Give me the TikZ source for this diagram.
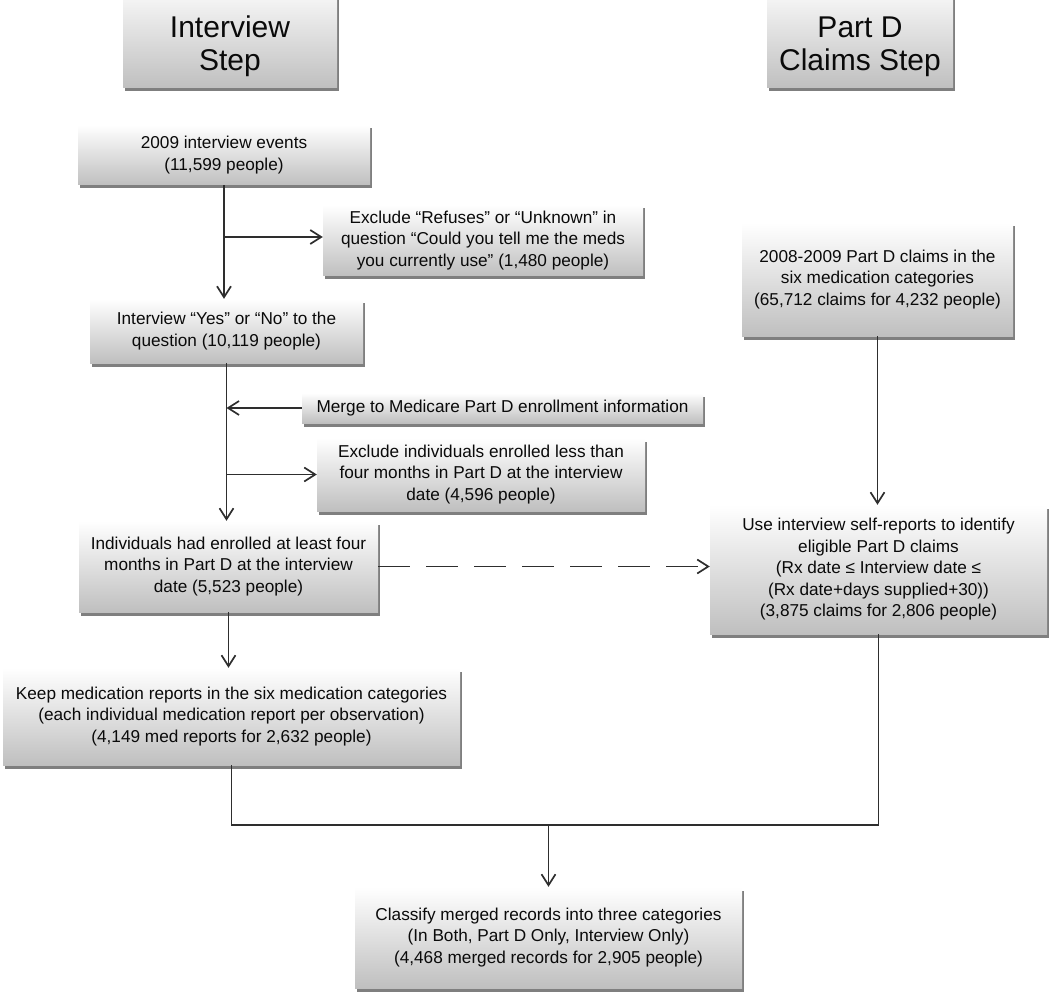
\documentclass[tikz,border=0pt]{standalone}
\usepackage{fontspec}
\setmainfont{Liberation Sans}
\usetikzlibrary{arrows.meta,shadows}
\definecolor{linec}{HTML}{2E2E2E}
\definecolor{txt}{HTML}{0A0A0A}
\tikzset{
  box/.style={rectangle, inner sep=0pt, align=center, text=txt,
    top color=white, bottom color=black!25,
    drop shadow={shadow xshift=1.5pt, shadow yshift=-3.5pt, fill=black, opacity=0.5},
    font=\fontsize{17.2}{21.5}\selectfont},
  headbox/.style={box},
  headtext/.style={align=center, text=txt, inner sep=0pt, font=\fontsize{30}{33}\selectfont},
  conn/.style={draw=linec, line width=1.9pt},
  arr/.style={conn, -{Straight Barb[length=11pt,width=14pt,line width=1.7pt]}},
  dasharr/.style={arr, dash pattern=on 32pt off 16pt}
}
\begin{document}
\begin{tikzpicture}[x=1pt,y=-1pt]
\useasboundingbox (0,0) rectangle (1050,995);
% headers
\node[headbox, minimum width=214pt, minimum height=108pt] (hI) at (230,34) {};
\node[headtext] (hIt) at (230,46) {Interview\\Step};
\node[headbox, minimum width=186pt, minimum height=108pt] (hP) at (860,34) {};
\node[headtext] (hPt) at (860,47) {Part D\\Claims Step};
% left column
\node[box, minimum width=292pt, minimum height=60pt] (b1) at (224,155) {2009 interview events\\(11,599 people)};
\node[box, minimum width=320pt, minimum height=71pt] (ex1) at (483,240.5) {Exclude “Refuses” or “Unknown” in\\question “Could you tell me the meds\\you currently use” (1,480 people)};
\node[box, minimum width=273pt, minimum height=64pt] (b2) at (226.5,331) {Interview “Yes” or “No” to the\\question (10,119 people)};
\node[box, minimum width=401pt, minimum height=30pt] (mg) at (502.5,408) {Merge to Medicare Part D enrollment information};
\node[box, minimum width=328pt, minimum height=73pt] (ex2) at (481,474.5) {Exclude individuals enrolled less than\\four months in Part D at the interview\\date (4,596 people)};
\node[box, minimum width=299pt, minimum height=91pt] (b3) at (228.5,566.5) {Individuals had enrolled at least four\\months in Part D at the interview\\date (5,523 people)};
\node[box, minimum width=457pt, minimum height=97pt] (b4) at (231.5,716.5) {Keep medication reports in the six medication categories\\(each individual medication report per observation)\\(4,149 med reports for 2,632 people)};
% right column
\node[box, minimum width=271pt, minimum height=113pt] (r1) at (877.5,279.5) {2008-2009 Part D claims in the\\six medication categories\\(65,712 claims for 4,232 people)};
\node[box, minimum width=337pt, minimum height=129pt] (r2) at (878.5,569.5) {Use interview self-reports to identify\\eligible Part D claims\\(Rx date ≤ Interview date ≤\\(Rx date+days supplied+30))\\(3,875 claims for 2,806 people)};
% bottom
\node[box, minimum width=387pt, minimum height=101pt] (b5) at (548.5,937.5) {Classify merged records into three categories\\(In Both, Part D Only, Interview Only)\\(4,468 merged records for 2,905 people)};
% connectors
\draw[arr] (b1.south) -- (b1.south |- b2.north);
\draw[arr] (b1.south |- 0,237) -- (ex1.west |- 0,237);
\draw[arr] (b2.south) -- (b2.south |- b3.north);
\draw[arr] (mg.west) -- (mg.west -| b2.south);
\draw[arr] (b2.south |- ex2.west) -- (ex2.west);
\draw[arr] (b3.south) -- (b3.south |- b4.north);
\draw[dasharr] (b3.east) -- (b3.east -| r2.west);
\draw[arr] (r1.south) -- (r1.south |- r2.north);
\coordinate (j) at (548.5,825);
\draw[conn] (b4.south) |- (j) -| (r2.south);
\draw[arr] (j) -- (b5.north);
\end{tikzpicture}
\end{document}
